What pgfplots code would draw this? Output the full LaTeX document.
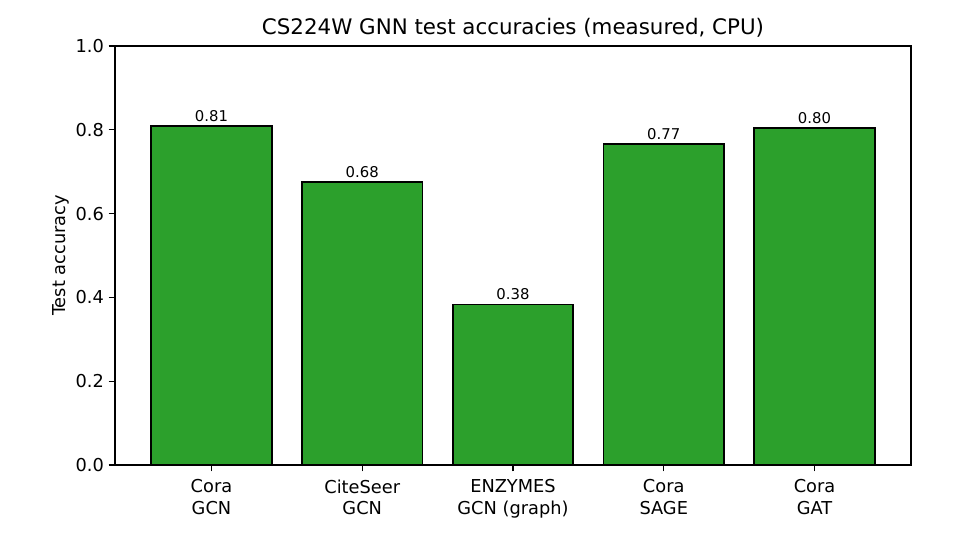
\documentclass[border=0pt]{standalone}
\usepackage{pgfplots}
\pgfplotsset{compat=1.18}
\usepackage{fontspec}
\setmainfont{DejaVu Sans}
\definecolor{bargreen}{HTML}{2CA02C}

\begin{document}
\begin{tikzpicture}
\path[use as bounding box] (-82.8pt,-54pt) rectangle (608.4pt,334.8pt);
\begin{axis}[
    scale only axis,
    width=573.1pt,
    height=301.7pt,
    xmin=-0.64, xmax=4.64,
    ymin=0, ymax=1.0,
    ytick={0,0.2,0.4,0.6,0.8,1.0},
    yticklabel style={/pgf/number format/fixed,/pgf/number format/fixed zerofill,/pgf/number format/precision=1},
    /pgf/number format/assume math mode=true,
    xtick={0,1,2,3,4},
    xticklabels={{Cora\\GCN},{CiteSeer\\GCN},{ENZYMES\\GCN (graph)},{Cora\\SAGE},{Cora\\GAT}},
    x tick label style={align=center,font=\fontsize{12.8}{15.3}\selectfont,yshift=-2.5pt},
    y tick label style={font=\fontsize{12.8}{15.3}\selectfont},
    tick align=outside,
    xtick pos=bottom,
    ytick pos=left,
    major tick length=4.5pt,
    every tick/.style={black,line width=1pt},
    axis line style={line width=1pt},
    ylabel={Test accuracy},
    ylabel style={font=\fontsize{12.8}{15.3}\selectfont,yshift=-2pt},
    title={CS224W GNN test accuracies (measured, CPU)},
    title style={font=\fontsize{15.4}{18}\selectfont,yshift=-3pt},
    ybar,
    bar width=0.8,
    bar shift=0pt,
    nodes near coords,
    nodes near coords style={font=\fontsize{10.7}{13}\selectfont,/pgf/number format/fixed,/pgf/number format/fixed zerofill,/pgf/number format/precision=2,/pgf/number format/assume math mode=true,inner sep=0pt,anchor=south,yshift=2.5pt},
]
\addplot[fill=bargreen,draw=black,line width=1.2pt] coordinates {
    (0,0.809) (1,0.676) (2,0.383) (3,0.766) (4,0.804)
};
\end{axis}
\end{tikzpicture}
\end{document}
